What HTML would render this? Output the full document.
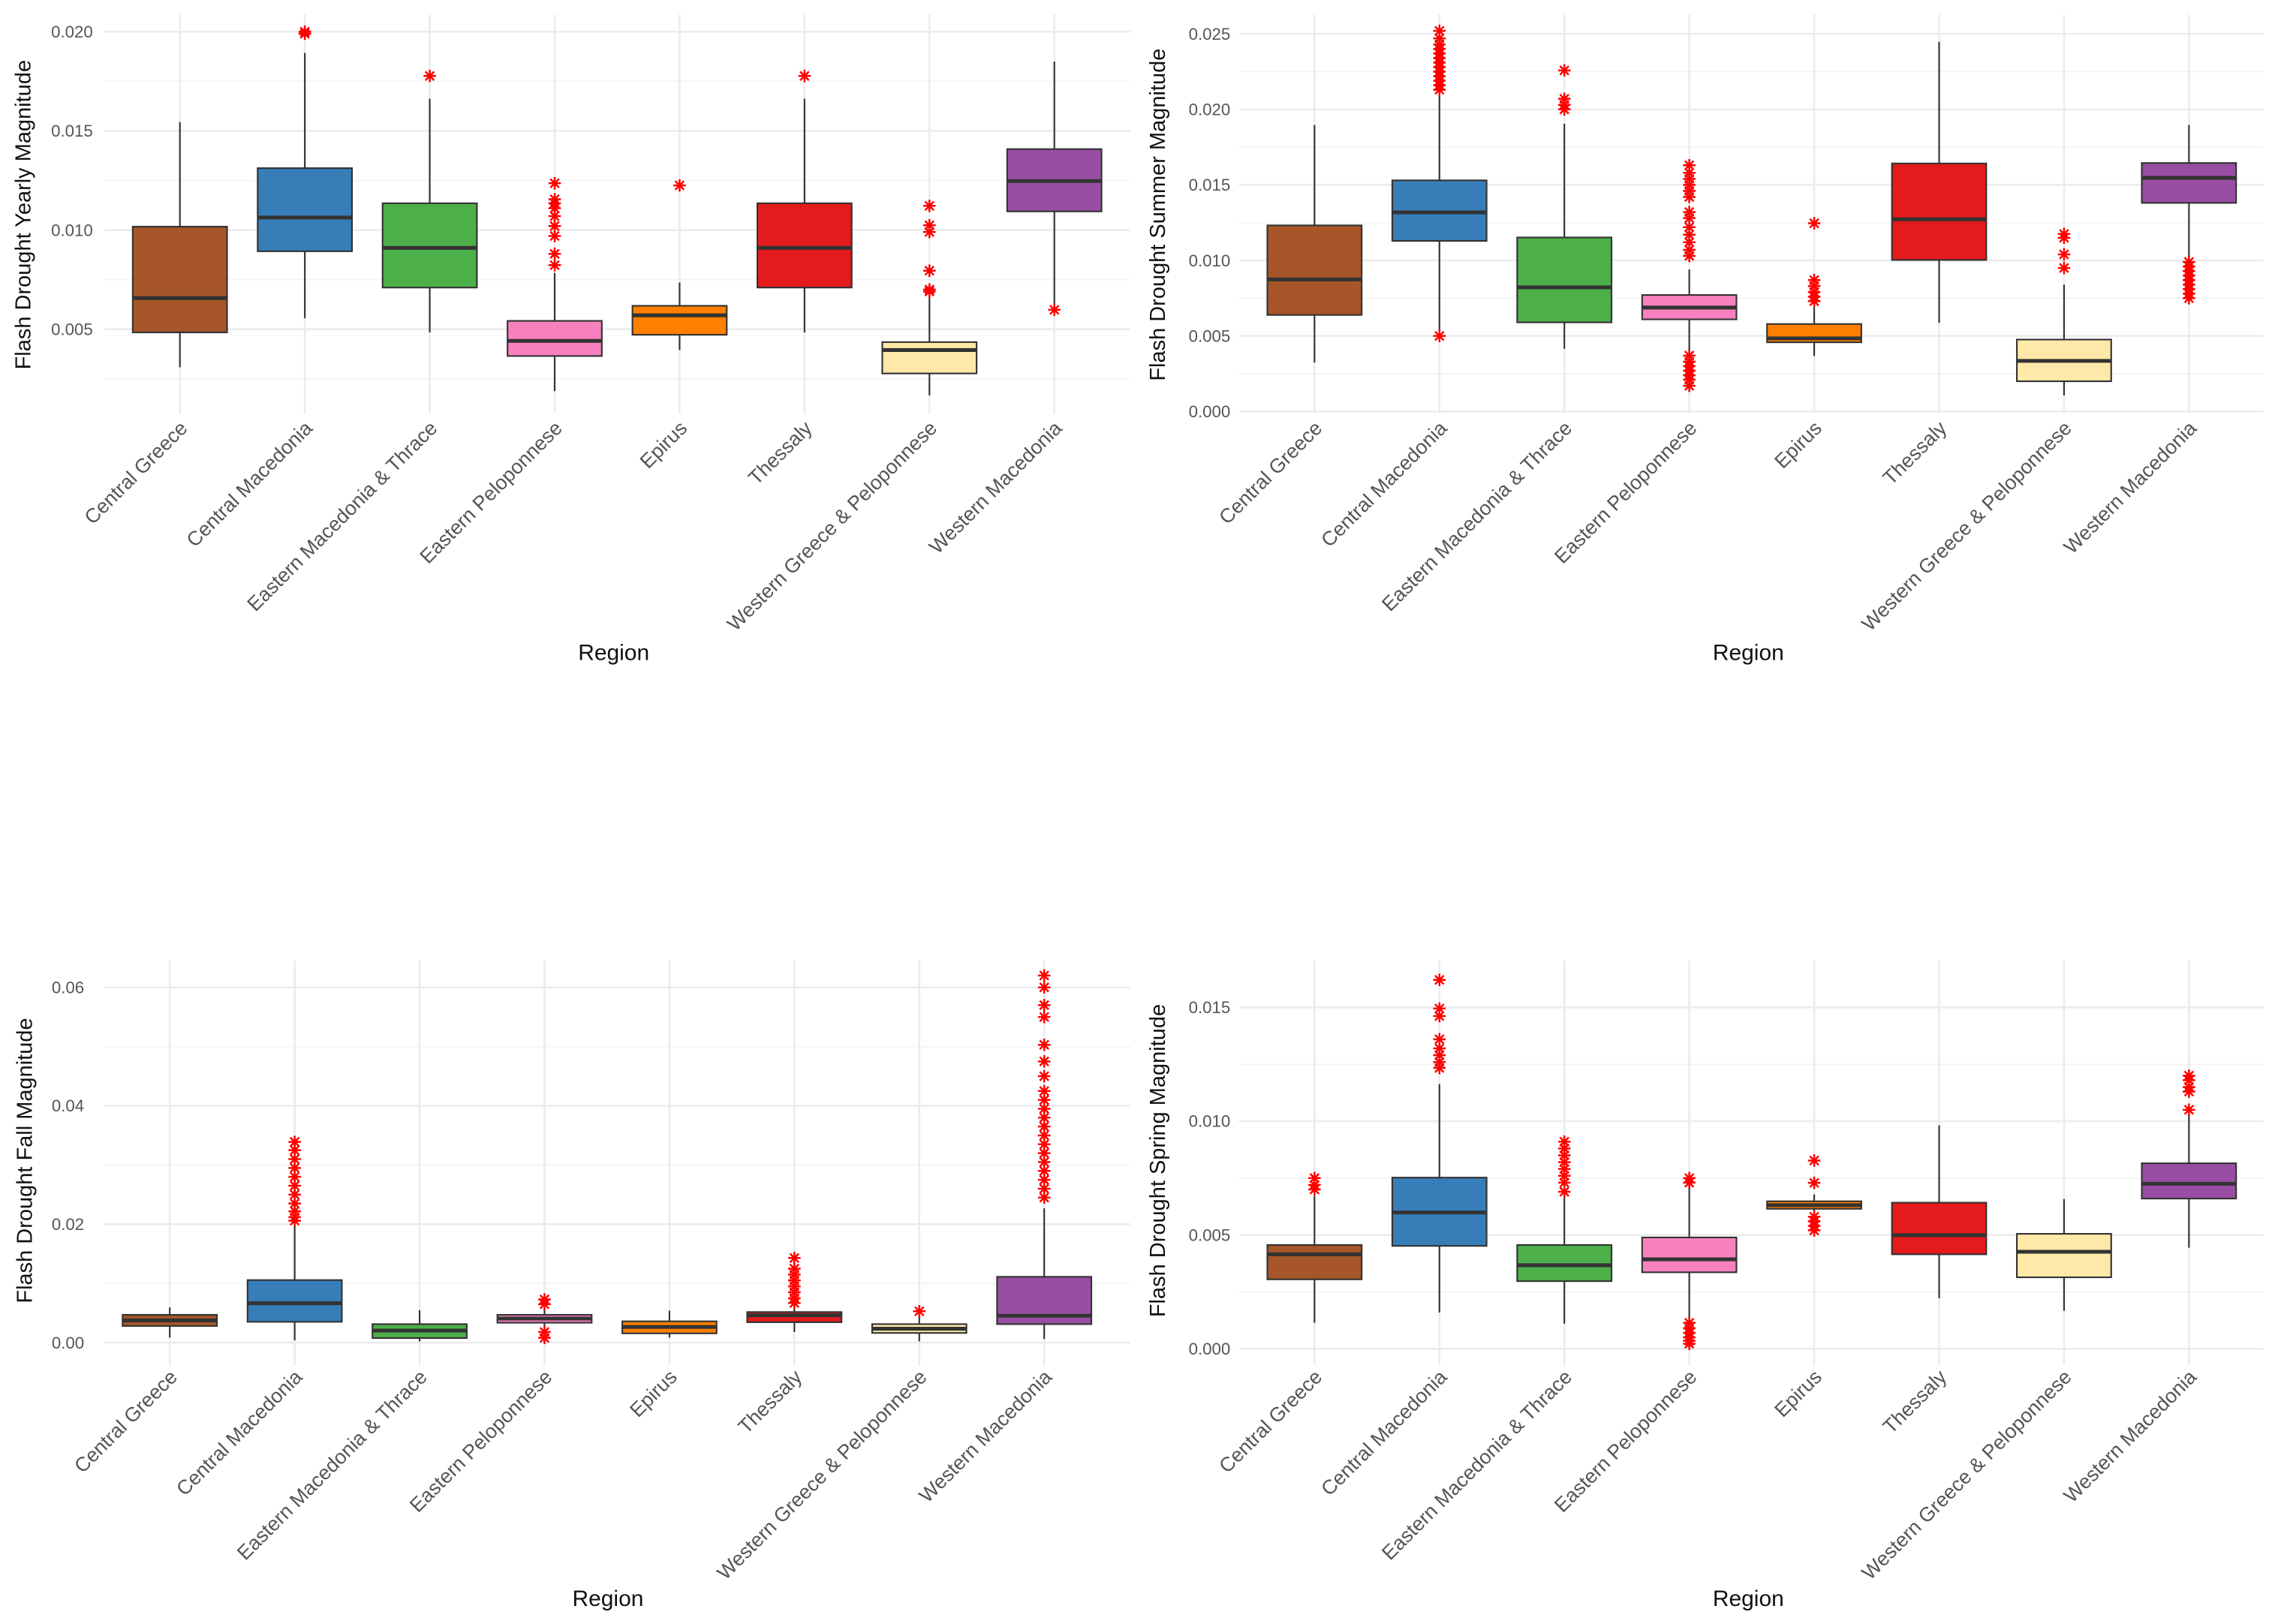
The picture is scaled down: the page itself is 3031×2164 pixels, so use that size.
<!DOCTYPE html>
<html><head><meta charset="utf-8"><style>
html,body{margin:0;padding:0;background:#fff;}
svg{display:block;}
text{font-family:"Liberation Sans",Arial,sans-serif;}
</style></head><body>
<svg id="chart" width="3031" height="2164" viewBox="0 0 1568 1119.4" xmlns="http://www.w3.org/2000/svg"></svg>
<script>
const categories = ["Central Greece","Central Macedonia","Eastern Macedonia & Thrace","Eastern Peloponnese","Epirus","Thessaly","Western Greece & Peloponnese","Western Macedonia"];
const fills = ["#A65628","#377EB8","#4DAF4A","#F781BF","#FF7F00","#E41A1C","#FFE9A8","#984EA3"];

// Yearly: [low, q1, median, q3, high]
const yearlyStats = [[0.00308,0.00484,0.00657,0.01017,0.01544],[0.00555,0.00893,0.01063,0.01312,0.01893],[0.00484,0.0071,0.0091,0.01135,0.01662],[0.00188,0.00365,0.00441,0.00542,0.00784],[0.00395,0.00472,0.0057,0.00618,0.00736],[0.00484,0.0071,0.0091,0.01135,0.01662],[0.00166,0.00277,0.00395,0.00435,0.00686],[0.0063,0.01094,0.01247,0.01408,0.01849]];
const yearlyOutliers = [[],[0.0199,0.0200],[0.01777],[0.01236,0.01155,0.01135,0.0111,0.0107,0.0102,0.0097,0.0088,0.00823],[0.01225],[0.01777],[0.01122,0.01024,0.0099,0.00795,0.007,0.0069],[0.00598]];
const yearlyTicks = [0.005,0.010,0.015,0.020];
const yearlyTickLabels = ["0.005","0.010","0.015","0.020"];

const summerStats = [[0.00324,0.00639,0.00874,0.01232,0.01897],[0.0054,0.01129,0.01318,0.0153,0.02106],[0.00415,0.0059,0.00822,0.01152,0.01905],[0.00401,0.0061,0.00688,0.00771,0.0094],[0.00367,0.00458,0.00484,0.00579,0.00688],[0.00587,0.01003,0.01272,0.01642,0.02447],[0.00106,0.002,0.00335,0.00476,0.0084],[0.01003,0.01381,0.01547,0.01645,0.01897]];
const summerOutliers = [[],[0.0252,0.0247,0.0243,0.024,0.0237,0.0234,0.0231,0.0228,0.0225,0.0222,0.0219,0.0216,0.0213,0.005],[0.02258,0.0207,0.0203,0.0200],[0.0163,0.0158,0.0154,0.015,0.0146,0.0142,0.0132,0.0128,0.0122,0.0117,0.0112,0.0107,0.0103,0.0037,0.0033,0.003,0.0027,0.0024,0.0021,0.0017],[0.01246,0.0087,0.0083,0.0079,0.0076,0.0073],[],[0.01175,0.0115,0.0104,0.0095],[0.0099,0.0096,0.0093,0.009,0.0087,0.0084,0.0081,0.0078,0.0075]];
const summerTicks = [0,0.005,0.010,0.015,0.020,0.025];
const summerTickLabels = ["0.000","0.005","0.010","0.015","0.020","0.025"];

const fallStats = [[0.00086,0.00282,0.00376,0.0047,0.00595],[0.0004,0.00352,0.00666,0.01057,0.02],[0.0002,0.00078,0.00204,0.00313,0.00548],[0.0018,0.00337,0.00407,0.0047,0.0065],[0.00086,0.00157,0.00266,0.0036,0.0054],[0.0018,0.00345,0.00462,0.00517,0.0065],[0.0002,0.00164,0.00235,0.00313,0.0047],[0.0006,0.00313,0.00454,0.01112,0.0227]];
const fallOutliers = [[],[0.0339,0.0325,0.031,0.0295,0.028,0.0265,0.025,0.0235,0.0222,0.0212,0.0206],[],[0.0073,0.0065,0.0018,0.0008],[],[0.0143,0.0125,0.0115,0.0105,0.0095,0.0085,0.0075,0.0067],[0.0053],[0.062,0.06,0.057,0.055,0.0503,0.0475,0.045,0.0425,0.041,0.0395,0.038,0.0365,0.035,0.0335,0.032,0.0305,0.029,0.0275,0.026,0.0245]];
const fallTicks = [0,0.02,0.04,0.06];
const fallTickLabels = ["0.00","0.02","0.04","0.06"];

const springStats = [[0.00114,0.00305,0.00415,0.00456,0.00672],[0.00159,0.00452,0.00599,0.00752,0.01163],[0.0011,0.00297,0.00367,0.00456,0.00688],[0.00124,0.00336,0.00393,0.00489,0.00709],[0.00582,0.00615,0.00631,0.00648,0.00678],[0.00222,0.00415,0.00499,0.00642,0.00982],[0.00167,0.00314,0.00426,0.00505,0.00658],[0.00444,0.0066,0.00725,0.00815,0.01031]];
const springOutliers = [[0.0075,0.0072,0.007],[0.01621,0.01495,0.01462,0.0136,0.0132,0.0129,0.0126,0.01234],[0.0091,0.0088,0.0085,0.0082,0.0079,0.0076,0.0073,0.0069],[0.0075,0.0073,0.00114,0.0009,0.0007,0.0005,0.00035,0.00022],[0.00827,0.00729,0.0058,0.0056,0.0054,0.0052],[],[],[0.012,0.0118,0.0115,0.0113,0.0105]];
const springTicks = [0,0.005,0.010,0.015];
const springTickLabels = ["0.000","0.005","0.010","0.015"];

const svg = document.getElementById('chart');
const NS = 'http://www.w3.org/2000/svg';
function mk(tag, attrs, parent){
  const e = document.createElementNS(NS, tag);
  for (const k in attrs) e.setAttribute(k, attrs[k]);
  (parent||svg).appendChild(e);
  return e;
}

const panels = [
 {name:'yearly', title:'Flash Drought Yearly Magnitude', stats:yearlyStats, outs:yearlyOutliers, ticks:yearlyTicks, labels:yearlyTickLabels, v0:0.005, y0:226.9, v1:0.020, y1:21.8, x0:124, gL:72, gR:779, gT:10, gB:285, tickX:64, titleX:16, titleY:148, labY:296, regionX:423, regionY:450},
 {name:'summer', title:'Flash Drought Summer Magnitude', stats:summerStats, outs:summerOutliers, ticks:summerTicks, labels:summerTickLabels, v0:0, y0:283.6, v1:0.025, y1:23.3, x0:906, gL:854, gR:1560, gT:10, gB:285, tickX:848, titleX:798, titleY:148, labY:296, regionX:1205, regionY:450},
 {name:'fall', title:'Flash Drought Fall Magnitude', stats:fallStats, outs:fallOutliers, ticks:fallTicks, labels:fallTickLabels, v0:0, y0:925.5, v1:0.06, y1:680.6, x0:117, gL:72, gR:779, gT:662, gB:941, tickX:58, titleX:17, titleY:800, labY:950, regionX:419, regionY:1102},
 {name:'spring', title:'Flash Drought Spring Magnitude', stats:springStats, outs:springOutliers, ticks:springTicks, labels:springTickLabels, v0:0, y0:929.7, v1:0.015, y1:694.4, x0:906, gL:854, gR:1560, gT:662, gB:941, tickX:848, titleX:798, titleY:800, labY:950, regionX:1205, regionY:1102}
];
const STEP = 86.1, HALF = 32.5;

panels.forEach(p => {
  const g = mk('g', {});
  
  
  const yS = v => p.y0 + (v - p.v0) / (p.v1 - p.v0) * (p.y1 - p.y0);
  const xS = i => p.x0 + i * STEP;
  const dt = p.ticks[1] - p.ticks[0];
  for (let k = -1; k < p.ticks.length; k++) {
    const v = p.ticks[0] + (k + 0.5) * dt;
    const y = yS(v);
    if (y < p.gT || y > p.gB) continue;
    const l = mk('line', {x1:p.gL, x2:p.gR, y1:y, y2:y, stroke:'#f3f3f3', 'stroke-width':0.9}, g);
    
    
  }
  p.ticks.forEach((v, i) => {
    const y = yS(v);
    const l = mk('line', {x1:p.gL, x2:p.gR, y1:y, y2:y, stroke:'#ebebeb', 'stroke-width':1.3}, g);
    
    
    const t = mk('text', {x:p.tickX, y:y + 4, 'text-anchor':'end', 'font-size':11.5, fill:'#555'}, g);
    t.textContent = p.labels[i];
    
    
  });
  categories.forEach((c, i) => {
    const l = mk('line', {x1:xS(i), x2:xS(i), y1:p.gT, y2:p.gB, stroke:'#ebebeb', 'stroke-width':1.3}, g);
    
    
  });
  categories.forEach((c, i) => {
    const s = p.stats[i], x = xS(i);
    const bg = mk('g', {}, g);
    
    
    mk('line', {x1:x, x2:x, y1:yS(s[0]), y2:yS(s[1]), stroke:'#333', 'stroke-width':1.1}, bg);
    mk('line', {x1:x, x2:x, y1:yS(s[3]), y2:yS(s[4]), stroke:'#333', 'stroke-width':1.1}, bg);
    mk('rect', {x:x - HALF, y:yS(s[3]), width:2 * HALF, height:Math.max(yS(s[1]) - yS(s[3]), 0.5), fill:fills[i], stroke:'#333', 'stroke-width':1.1}, bg);
    mk('line', {x1:x - HALF, x2:x + HALF, y1:yS(s[2]), y2:yS(s[2]), stroke:'#333', 'stroke-width':2.6}, bg);
    p.outs[i].forEach(v => {
      const y = yS(v), r = 4.3;
      const o = mk('path', {d:`M${x-r},${y}H${x+r}M${x},${y-r}V${y+r}M${x-r*0.7},${y-r*0.7}L${x+r*0.7},${y+r*0.7}M${x-r*0.7},${y+r*0.7}L${x+r*0.7},${y-r*0.7}`, stroke:'#ff0000', 'stroke-width':1.3, fill:'none'}, bg);
      
      
    });
    const t = mk('text', {x:0, y:0, 'text-anchor':'end', 'font-size':13.8, fill:'#555', transform:`translate(${x + 6},${p.labY}) rotate(-45)`}, g);
    t.textContent = c;
    
    
  });
  const yt = mk('text', {x:0, y:0, 'text-anchor':'middle', 'font-size':15, fill:'#111', transform:`translate(${p.titleX + 5},${p.titleY}) rotate(-90)`}, g);
  yt.textContent = p.title;
  
  
  const xt = mk('text', {x:p.regionX, y:p.regionY + 5, 'text-anchor':'middle', 'font-size':15.5, fill:'#111'}, g);
  xt.textContent = 'Region';
  
  
});
</script>
</body></html>
